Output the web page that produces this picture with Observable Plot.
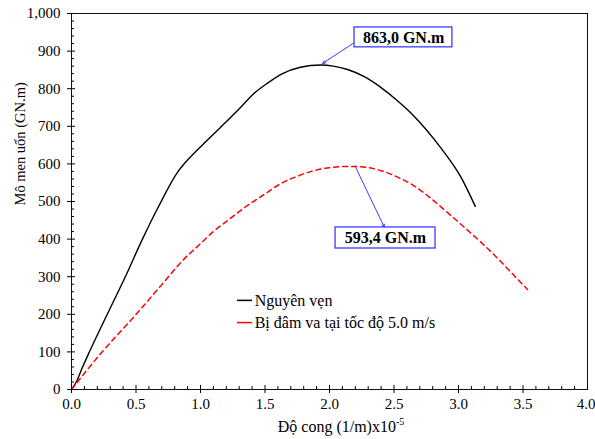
<!DOCTYPE html>
<html><head><meta charset="utf-8">
<script src="https://cdn.jsdelivr.net/npm/d3@7"></script>
<script src="https://cdn.jsdelivr.net/npm/@observablehq/plot@0.6"></script>
<style>body{margin:0;background:#fff}</style>
</head><body><div id="chart"></div>
<script>
// Series: "Nguyên vẹn" (intact)
const intactX = [0, 0.04, 0.08, 0.14, 0.28, 0.42, 0.55, 0.68, 0.82, 0.88, 0.946, 1.05, 1.155, 1.31, 1.41, 1.52, 1.64, 1.775, 1.93, 2.03, 2.14, 2.27, 2.40, 2.52, 2.65, 2.86, 3.02, 3.13];
const intactY = [0, 22, 55, 101, 202, 302, 400, 490, 577, 603, 627, 662, 697, 750, 786, 815, 841, 857, 863, 860, 851, 832, 803, 770, 729, 644, 564, 487];
// Series: "Bị đâm va tại tốc độ 5.0 m/s" (damaged)
const damagedX = [0, 0.225, 0.48, 0.74, 0.845, 1.0, 1.1, 1.22, 1.362, 1.5, 1.62, 1.75, 1.878, 2.0, 2.15, 2.28, 2.40, 2.52, 2.65, 2.78, 2.91, 3.04, 3.17, 3.30, 3.42, 3.535];
const damagedY = [0, 95, 192, 295, 337, 388, 420, 452, 489, 520, 547, 567, 582, 590, 593.4, 591, 582, 566, 543, 510, 472, 433, 393, 350, 307, 266];
const seriesNames = ["Nguyên vẹn", "Bị đâm va tại tốc độ 5.0 m/s"];
const seriesColors = ["#000000", "#ff0000"];

// Axes
const xMajorTicks = [0, 0.5, 1.0, 1.5, 2.0, 2.5, 3.0, 3.5];
const xLastTick = [4.0];
const xMinorTicks = [0.1,0.2,0.3,0.4,0.6,0.7,0.8,0.9,1.1,1.2,1.3,1.4,1.6,1.7,1.8,1.9,2.1,2.2,2.3,2.4,2.6,2.7,2.8,2.9,3.1,3.2,3.3,3.4,3.6,3.7,3.8,3.9];
const yMajorTicks = [0, 100, 200, 300, 400, 500, 600, 700, 800, 900, 1000];
const yMinorTicks = yMajorTicks.flatMap(v => v < 1000 ? [v + 20, v + 40, v + 60, v + 80] : []);
const xTitle = "Độ cong (1/m)x10";
const xTitleExp = "-5";
const yTitle = "Mô men uốn (GN.m)";

// Peak annotations
const peakLabels = ["863,0 GN.m", "593,4 GN.m"];
const labelX = [2.574, 2.434];
const labelY = [936.5, 403];
const boxX1 = [2.194, 2.047], boxX2 = [2.953, 2.822];
const boxY1 = [910, 375], boxY2 = [963, 431];
const arrowX1 = [2.194, 2.20], arrowY1 = [923, 593];
const arrowX2 = [1.946, 2.426], arrowY2 = [867, 431];

// Legend placement (data units)
const legendX1 = 1.287, legendX2 = 1.403, legendTextX = 1.42;
const legendY = [237, 178];

const intact = intactX.map((x, i) => ({x, y: intactY[i]}));
const damaged = damagedX.map((x, i) => ({x, y: damagedY[i]}));
const annotations = peakLabels.map((label, i) => ({
  label, lx: labelX[i], ly: labelY[i],
  bx1: boxX1[i], bx2: boxX2[i], by1: boxY1[i], by2: boxY2[i],
  ax1: arrowX1[i], ay1: arrowY1[i], ax2: arrowX2[i], ay2: arrowY2[i]
}));
const legend = seriesNames.map((name, i) => ({name, color: seriesColors[i], y: legendY[i], dash: i === 0 ? null : "4,3"}));

const serif = "Liberation Serif, Tinos, DejaVu Serif, serif";
const blue = "#3c3cff";

const plot = Plot.plot({
  width: 595, height: 439,
  marginLeft: 71, marginRight: 8, marginTop: 13, marginBottom: 50,
  x: {domain: [0, 4]},
  y: {domain: [0, 1000]},
  style: {fontFamily: serif, fontSize: "15px", color: "black", background: "white"},
  marks: [
    Plot.line(intact, {x: "x", y: "y", stroke: seriesColors[0], strokeWidth: 1.4, curve: "monotone-x"}),
    Plot.line(damaged, {x: "x", y: "y", stroke: seriesColors[1], strokeWidth: 1.5, strokeDasharray: "5,4", curve: "monotone-x"}),
    Plot.frame({stroke: "#111", strokeWidth: 1}),
    Plot.axisX(xMajorTicks, {tickSize: 4, tickPadding: 5, tickFormat: d3.format(".1f"), label: null, fontSize: 15}),
    Plot.axisX(xLastTick, {tickSize: 4, tickPadding: 5, tickFormat: d3.format(".1f"), label: null, fontSize: 15, textAnchor: "end", dx: 8}),
    Plot.axisX(xMajorTicks.concat(xLastTick), {tickSize: -4, tickFormat: () => "", label: null}),
    Plot.axisX(xMinorTicks, {tickSize: -3, tickFormat: () => "", label: null}),
    Plot.axisY(yMajorTicks, {tickSize: 4, tickPadding: 7, tickFormat: d3.format(","), label: null, fontSize: 15}),
    Plot.axisY(yMajorTicks, {tickSize: -4, tickFormat: () => "", label: null}),
    Plot.axisY(yMinorTicks, {tickSize: -3, tickFormat: () => "", label: null}),
    Plot.text([yTitle], {frameAnchor: "left", rotate: -90, dx: -51, dy: 4, fontSize: 14.5, fontFamily: serif}),
    // annotations
    Plot.arrow(annotations, {x1: "ax1", y1: "ay1", x2: "ax2", y2: "ay2", stroke: blue, strokeWidth: 1, headLength: 5, headAngle: 45, inset: 0}),
    Plot.rect(annotations, {x1: "bx1", x2: "bx2", y1: "by1", y2: "by2", fill: "white", stroke: blue, strokeWidth: 1.3}),
    Plot.text(annotations, {x: "lx", y: "ly", text: "label", fontWeight: "bold", fontSize: 16, fontFamily: serif, fill: "black"}),
    // legend
    Plot.ruleY(legend, {y: "y", x1: legendX1, x2: legendX2, stroke: "color", strokeWidth: 1.5, strokeDasharray: "dash"}),
    Plot.text(legend, {x: legendTextX, y: "y", text: "name", textAnchor: "start", fontSize: 16, fontFamily: serif})
  ]
});
document.getElementById("chart").appendChild(plot);

// X axis title with superscript exponent
const xs = plot.scale("x");
const svg = d3.select(plot);
const t = svg.append("text")
  .attr("x", (xs.apply(0) + xs.apply(4)) / 2 + 12)
  .attr("y", 432)
  .attr("text-anchor", "middle")
  .attr("font-family", serif)
  .attr("font-size", 16)
  .attr("fill", "black");
t.append("tspan").text(xTitle);
t.append("tspan").attr("dy", -7).attr("font-size", 10).text(xTitleExp);
</script>
</body></html>
